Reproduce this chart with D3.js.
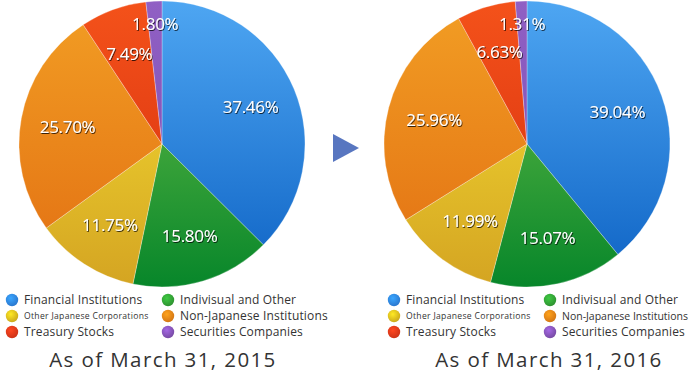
<!DOCTYPE html>
<html><head><meta charset="utf-8">
<script src="https://cdn.jsdelivr.net/npm/d3@7/dist/d3.min.js"></script>
<style>
html,body{margin:0;padding:0;background:#fff;}
svg{display:block;}
</style></head>
<body>
<svg id="chart" width="700" height="380"></svg>
<script>
const categories = ["Financial Institutions","Indivisual and Other","Other Japanese Corporations","Non-Japanese Institutions","Treasury Stocks","Securities Companies"];
const values2015 = [37.46, 15.80, 11.75, 25.70, 7.49, 1.80];
const values2016 = [39.04, 15.07, 11.99, 25.96, 6.63, 1.31];
const titles = ["As of March 31, 2015","As of March 31, 2016"];
const legendOrder = [0,1,2,3,4,5];

const lightCols = ["#4ea6f2","#72c24a","#f7e234","#f29e24","#f4521a","#9060c4"];
const darkCols  = ["#0d62c4","#07862a","#d4a422","#e26e12","#d42c0e","#7a4cb0"];
const legendCols = ["#2f86e6","#33a336","#e3bd1e","#ec8417","#e5391a","#8554b8"];

const W = 700;
const svg = d3.select("#chart");
const defs = svg.append("defs");

categories.forEach((c,i)=>{
  const g = defs.append("linearGradient").attr("id","g"+i)
    .attr("gradientUnits","userSpaceOnUse").attr("x1",0).attr("y1",-143).attr("x2",0).attr("y2",143);
  g.append("stop").attr("offset","0%").attr("stop-color",lightCols[i]);
  g.append("stop").attr("offset","100%").attr("stop-color",darkCols[i]);
  const r = defs.append("radialGradient").attr("id","lg"+i).attr("cx","40%").attr("cy","35%").attr("r","65%");
  r.append("stop").attr("offset","0%").attr("stop-color",d3.color(legendCols[i]).brighter(0.6));
  r.append("stop").attr("offset","100%").attr("stop-color",d3.color(legendCols[i]).darker(0.3));
});
const f = defs.append("filter").attr("id","ts").attr("x","-20%").attr("y","-30%").attr("width","140%").attr("height","160%");
f.append("feDropShadow").attr("dx",0.8).attr("dy",1).attr("stdDeviation",0.6).attr("flood-color","#000").attr("flood-opacity",0.75);

const pie = d3.pie().sort(null).value(d=>d);
const R = 143;
const arc = d3.arc().innerRadius(0).outerRadius(R);
const FONT = "'Open Sans','DejaVu Sans',sans-serif";

function drawPie(values, cx, cy, legendX, colGap, title, titleX){
  const g = svg.append("g").attr("transform",`translate(${cx},${cy})`);
  const arcs = pie(values);
  g.selectAll("path").data(arcs).enter().append("path")
    .attr("d",arc)
    .attr("fill",(d,i)=>`url(#g${i})`)
    .attr("stroke","rgba(255,255,255,0.35)").attr("stroke-width",0.8);
  g.selectAll("text").data(arcs).enter().append("text")
    .attr("transform",d=>{
      const a=(d.startAngle+d.endAngle)/2;
      const rr = d.value<3 ? 120 : 96;
      return `translate(${rr*Math.sin(a)},${-rr*Math.cos(a)})`;
    })
    .attr("text-anchor","middle").attr("dy","0.36em")
    .attr("font-family",FONT).attr("font-size",17)
    .attr("letter-spacing","-0.3").attr("fill","#fff").attr("filter","url(#ts)")
    .text(d=>d.value.toFixed(2)+"%");

  const lg = svg.append("g");
  legendOrder.forEach((k,j)=>{
    const col = j%2, row = Math.floor(j/2);
    const x = legendX + col*colGap, y = 300 + row*16;
    lg.append("circle").attr("cx",x).attr("cy",y).attr("r",6.2).attr("fill",`url(#lg${k})`);
    const t = lg.append("text").attr("x",x+12).attr("y",y).attr("dy","0.36em")
      .attr("font-family",FONT)
      .attr("font-size", k===2 ? 8.6 : 12)
      .attr("letter-spacing", k===2 ? 0.3 : 0.15)
      .attr("fill","#333").text(categories[k]);
    const avail = W - 12 - (x+12);
    const len = t.node().getComputedTextLength();
    if (len > avail) t.attr("letter-spacing",0).attr("font-size",11.4)
      .attr("textLength", avail).attr("lengthAdjust","spacingAndGlyphs");
  });
  svg.append("text").attr("x",titleX).attr("y",360).attr("dy","0.36em")
    .attr("text-anchor","middle").attr("font-family",FONT)
    .attr("font-size",20.5).attr("letter-spacing",1.4).attr("fill","#333").text(title);
}

drawPie(values2015, 162, 144, 12, 156, titles[0], 163);
drawPie(values2016, 527, 144, 394, 156, titles[1], 549);

svg.append("path").attr("d",d3.line()([[333,134],[359,148],[333,162]])+"Z").attr("fill","#5876c0");
</script>
</body></html>
